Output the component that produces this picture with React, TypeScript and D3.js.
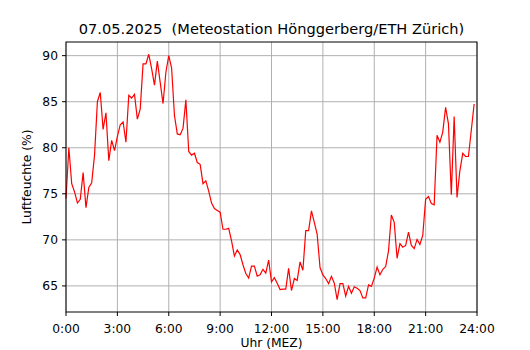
import * as d3 from "d3";

const width = 530;
const height = 350;
const margin = { top: 42, right: 53, bottom: 38, left: 66 };

const title = "07.05.2025  (Meteostation Hönggerberg/ETH Zürich)";

// relative humidity, 10-minute values from 0:00 to 23:50
const humidity = [
  74.5, 80.0, 76.1, 75.2, 74.0, 74.4, 77.3, 73.5, 75.7, 76.2, 79.2, 85.0,
  86.0, 82.0, 83.8, 78.6, 80.8, 79.7, 81.2, 82.5, 82.8, 80.6, 85.7, 85.4,
  85.8, 83.1, 84.2, 89.1, 89.1, 90.15, 88.6, 86.8, 89.4, 87.1, 84.8, 88.2,
  90.0, 88.65, 83.5, 81.5, 81.4, 82.1, 85.2, 79.6, 79.2, 79.4, 78.4, 78.2,
  76.1, 76.4, 75.3, 74.0, 73.4, 73.2, 73.0, 71.15, 71.15, 71.25, 69.9, 68.25,
  68.9, 68.4, 67.3, 66.35, 65.85, 67.15, 67.15, 66.05, 66.2, 66.8, 66.4, 67.8,
  65.45, 65.9, 65.3, 64.6, 64.65, 64.65, 66.9, 64.5, 65.8, 65.6, 67.6, 66.7,
  71.0, 71.0, 73.15, 71.9, 70.6, 67.0, 66.2, 65.8, 65.25, 66.05, 65.3, 63.5,
  65.25, 65.25, 63.9, 64.95, 64.2, 64.9, 64.75, 64.5, 63.7, 63.7, 65.1, 64.95,
  65.85, 67.05, 66.2, 66.8, 67.1, 68.8, 72.7, 71.9, 68.0, 69.6, 69.2, 69.4,
  70.85, 69.4, 69.05, 70.05, 69.5, 70.5, 74.4, 74.7, 73.95, 73.8, 81.35, 80.6,
  81.7, 84.4, 82.6, 74.9, 83.4, 74.6, 77.5, 79.4, 79.05, 79.05, 81.9, 84.75,
];

const xTicks = [0, 3, 6, 9, 12, 15, 18, 21, 24];
const xTickLabels = ["0:00", "3:00", "6:00", "9:00", "12:00", "15:00", "18:00", "21:00", "24:00"];
const yTicks = [65, 70, 75, 80, 85, 90];

const font = "DejaVu Sans, sans-serif";

const App = () => {
  const x = d3
    .scaleLinear()
    .domain([0, 24])
    .range([margin.left, width - margin.right]);

  // matplotlib-style 5% padding around the data
  const [lo, hi] = d3.extent(humidity) as [number, number];
  const pad = (hi - lo) * 0.05;
  const y = d3
    .scaleLinear()
    .domain([lo - pad, hi + pad])
    .range([height - margin.bottom, margin.top]);

  const line = d3
    .line<number>()
    .x((_, i) => x(i / 6))
    .y((d) => y(d));

  const left = margin.left;
  const right = width - margin.right;
  const top = margin.top;
  const bottom = height - margin.bottom;

  return (
    <svg
      width={width}
      height={height}
      style={{ position: "absolute", left: 0, top: 0, background: "white" }}
      fontFamily={font}
    >
      {/* grid */}
      <g stroke="#b0b0b0" strokeWidth={1}>
        {xTicks.map((t) => (
          <line key={t} x1={x(t)} x2={x(t)} y1={top} y2={bottom} />
        ))}
        {yTicks.map((t) => (
          <line key={t} x1={left} x2={right} y1={y(t)} y2={y(t)} />
        ))}
      </g>

      <path d={line(humidity) ?? ""} fill="none" stroke="red" strokeWidth={1.2} />

      <rect
        x={left}
        y={top}
        width={right - left}
        height={bottom - top}
        fill="none"
        stroke="black"
        strokeWidth={1}
      />

      {/* x axis */}
      <g fontSize={12.3} textAnchor="middle">
        {xTicks.map((t, i) => (
          <g key={t}>
            <line x1={x(t)} x2={x(t)} y1={bottom} y2={bottom + 4} stroke="black" />
            <text x={x(t)} y={bottom + 21}>
              {xTickLabels[i]}
            </text>
          </g>
        ))}
        <text x={(left + right) / 2} y={347}>
          Uhr (MEZ)
        </text>
      </g>

      {/* y axis */}
      <g fontSize={12.3}>
        {yTicks.map((t) => (
          <g key={t}>
            <line x1={left - 4} x2={left} y1={y(t)} y2={y(t)} stroke="black" />
            <text x={left - 8} y={y(t)} dy="0.36em" textAnchor="end">
              {t}
            </text>
          </g>
        ))}
        <text
          transform={`translate(31,${(top + bottom) / 2}) rotate(-90)`}
          textAnchor="middle"
        >
          Luftfeuchte (%)
        </text>
      </g>

      <text
        x={(left + right) / 2}
        y={34}
        fontSize={14.6}
        textAnchor="middle"
        style={{ whiteSpace: "pre" }}
      >
        {title}
      </text>
    </svg>
  );
};

export default App;
